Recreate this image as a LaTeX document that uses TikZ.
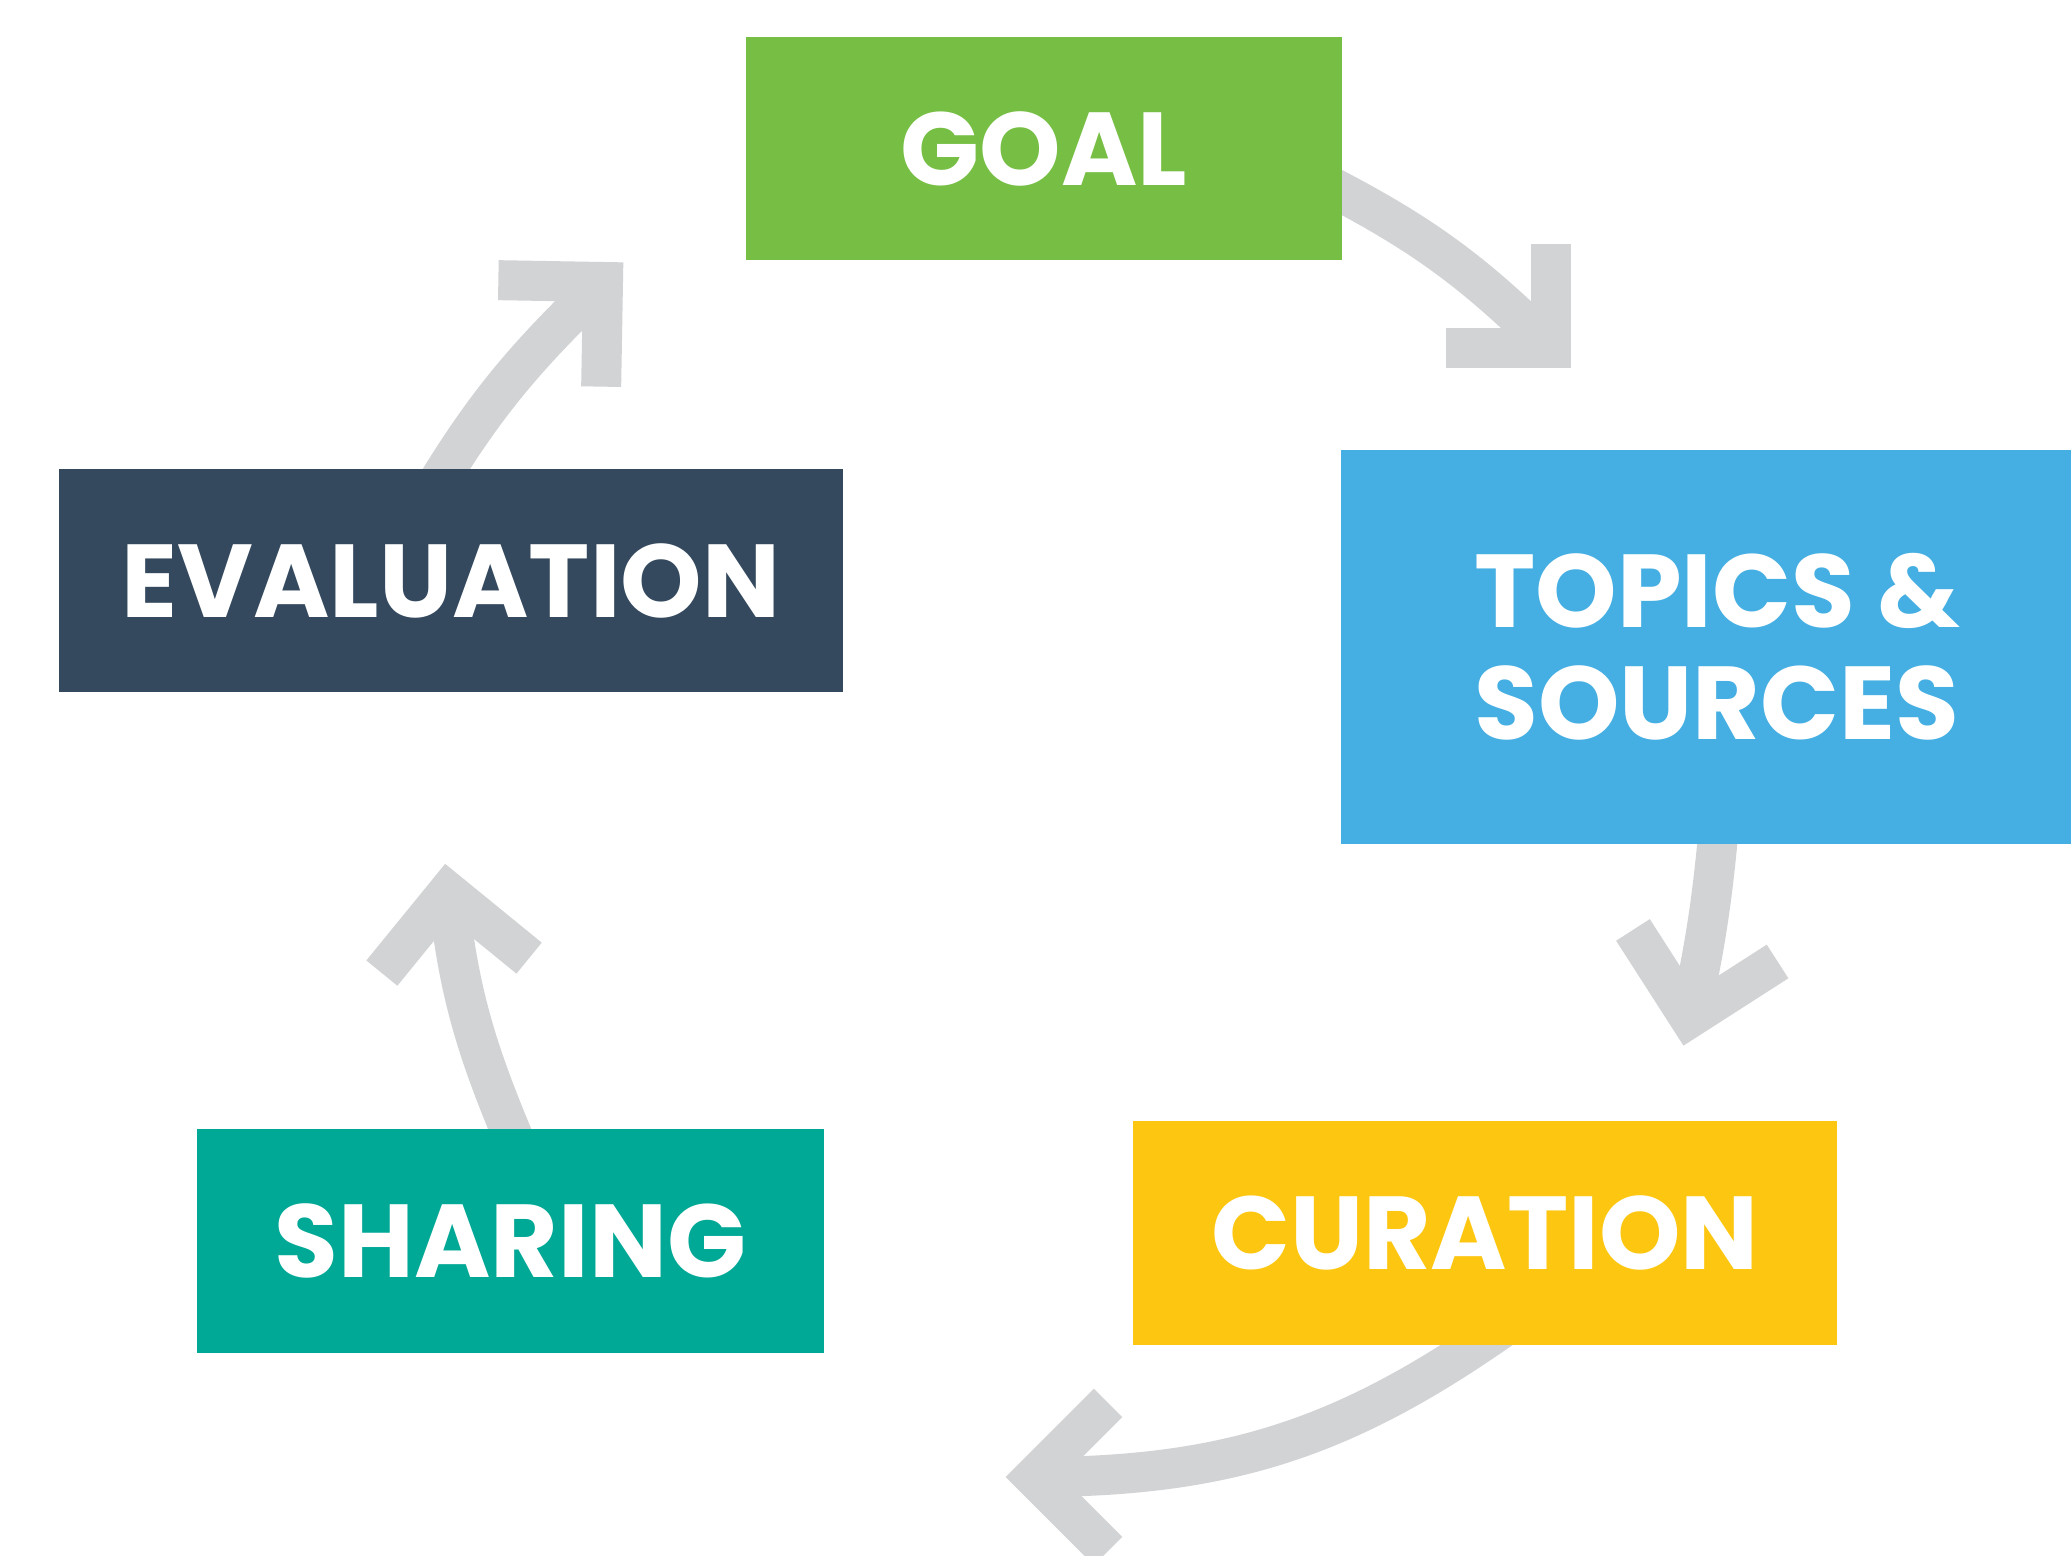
\documentclass[tikz,border=0pt]{standalone}
\usepackage{fontspec}
\setmainfont{Poppins}
\usetikzlibrary{positioning,backgrounds}

\definecolor{goalgreen}{HTML}{76BF44}
\definecolor{topicblue}{HTML}{45AEE2}
\definecolor{curayellow}{HTML}{FDC610}
\definecolor{shareteal}{HTML}{00A896}
\definecolor{evalnavy}{HTML}{34495E}
\definecolor{arrowgray}{HTML}{D1D3D4}

\begin{document}
\begin{tikzpicture}[
    box/.style = {rectangle, inner sep=0pt, outer sep=0pt, text=white,
                  font=\bfseries\fontsize{29.5}{32}\selectfont, align=center},
    flow/.style = {draw=arrowgray, line width=4mm, line cap=butt},
    chev/.pic = {\draw[arrowgray, line width=4mm, line join=miter, line cap=butt]
                 (-0.74,0.74) -- (0,0) -- (-0.74,-0.74);}
  ]
  \path[use as bounding box, clip] (0,0) rectangle (20.71,-15.56);
  % Define nodes
  \node[box, fill=goalgreen, minimum width=5.96cm, minimum height=2.23cm] (goal) at (10.44,-1.485) {GOAL};
  \node[box, fill=topicblue, minimum width=7.52cm, minimum height=3.94cm] (topics) at (17.17,-6.47) {TOPICS \&\\SOURCES};
  \node[box, fill=curayellow, minimum width=7.04cm, minimum height=2.24cm] (curation) at (14.85,-12.33) {CURATION};
  \node[box, fill=shareteal, minimum width=6.27cm, minimum height=2.235cm] (sharing) at (5.105,-12.41) {SHARING};
  \node[box, fill=evalnavy, minimum width=7.83cm, minimum height=2.23cm] (evaluation) at (4.51,-5.805) {EVALUATION};
  % Arrow tips
  \coordinate (tip1) at (15.51,-3.485);
  \coordinate (tip2) at (16.895,-10.18);
  \coordinate (tip3) at (10.34,-14.77);
  \coordinate (tip4) at (4.48,-8.92);
  \coordinate (tip5) at (6.03,-2.82);
  % Add edges
  \begin{scope}[on background layer]
    \clip (0,0) rectangle (20.71,-15.56);
    \draw[flow] ([shift={(-0.27,-0.30)}]goal.east) to[out=-27, in=135] (tip1);
    \pic[rotate=-45] at (tip1) {chev};
    \draw[flow] ([shift={(0.03,0.30)}]topics.south) to[out=-95, in=77.7] (tip2);
    \pic[rotate=-102.3] at (tip2) {chev};
    \draw[flow] ([shift={(0.17,0.17)}]curation.south) to[out=215, in=0] (tip3);
    \pic[rotate=180] at (tip3) {chev};
    \draw[flow] ([shift={(0.11,-0.28)}]sharing.north) to[out=113, in=-84.2] (tip4);
    \pic[rotate=95.8] at (tip4) {chev};
    \draw[flow] ([shift={(-0.205,-0.257)}]evaluation.north) to[out=59, in=224] (tip5);
    \pic[rotate=44] at (tip5) {chev};
  \end{scope}
\end{tikzpicture}
\end{document}
